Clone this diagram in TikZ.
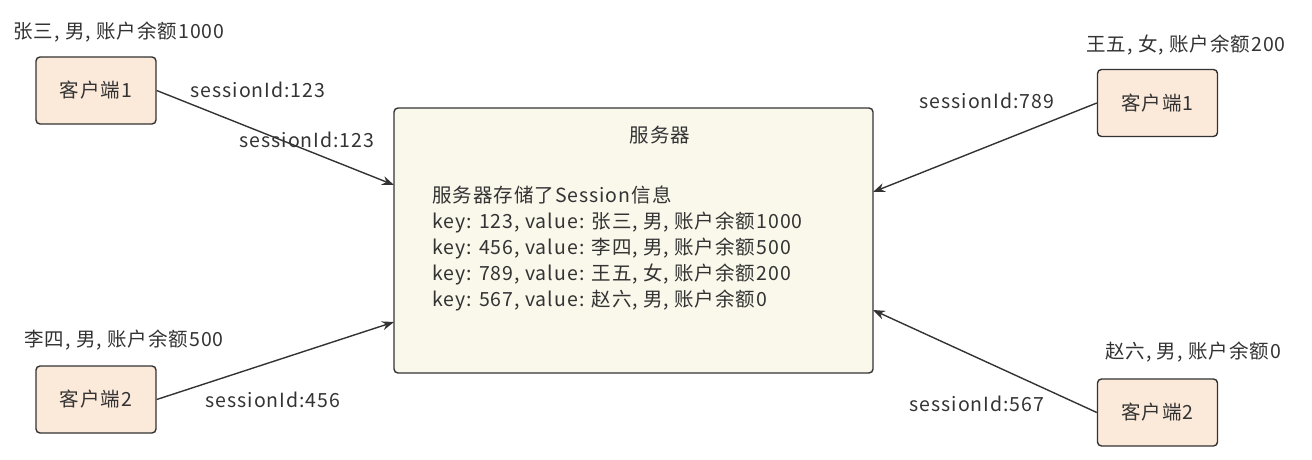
\documentclass[tikz,border=0pt]{standalone}
\usepackage{fontspec}
\setmainfont[LetterSpace=5]{Noto Sans CJK SC}
\usepackage{tikz}
\usetikzlibrary{arrows.meta, positioning}
\usepackage{xcolor}
\definecolor{clientfill}{RGB}{251,233,218}
\definecolor{serverfill}{RGB}{250,247,235}
\definecolor{inkgray}{RGB}{51,51,51}

\begin{document}
\begin{tikzpicture}[
    x=1pt, y=-1pt,
    font=\fontsize{19.5}{23}\selectfont, text=inkgray,
    client/.style={draw=inkgray, line width=1.4pt, rounded corners=4pt, fill=clientfill,
      minimum width=120pt, minimum height=67pt, inner sep=0pt},
    server/.style={draw=inkgray, line width=1.4pt, rounded corners=4pt, fill=serverfill,
      minimum width=479pt, minimum height=265pt, inner sep=0pt},
    info/.style={inner sep=0pt},
    sid/.style={inner sep=0pt},
    link/.style={draw=inkgray, line width=1.4pt, -{Stealth[length=12pt, width=9pt]}},
  ]

  \useasboundingbox (0,0) rectangle (1312,460);

  % --- server ---
  \node[server] (srv) at (633.5,240.5) {};
  \node[info] (srvtitle) at (660,135) {服务器};
  \node[info, anchor=north west, align=left, font=\fontsize{19.5}{26}\selectfont] (store) at (432,186)
    {服务器存储了Session信息\\
     key: 123, value: 张三, 男, 账户余额1000\\
     key: 456, value: 李四, 男, 账户余额500\\
     key: 789, value: 王五, 女, 账户余额200\\
     key: 567, value: 赵六, 男, 账户余额0};

  % --- clients ---
  \node[client] (cl1) at (96,90.5) {客户端1};
  \node[client] (cl2) at (96,399.5) {客户端2};
  \node[client] (cr1) at (1157.5,103) {客户端1};
  \node[client] (cr2) at (1157.5,412.5) {客户端2};

  \node[info] (ul1) at (119,32) {张三, 男, 账户余额1000};
  \node[info] (ul2) at (124,340) {李四, 男, 账户余额500};
  \node[info] (ur1) at (1186,45) {王五, 女, 账户余额200};
  \node[info] (ur2) at (1193,352) {赵六, 男, 账户余额0};

  % --- arrow ends on the server ---
  \coordinate (in1) at (394,185);
  \coordinate (in2) at (394,322);
  \coordinate (in3) at (873,192);
  \coordinate (in4) at (873,310);

  % --- connectors ---
  \draw[link] (cl1.east) -- (in1);
  \draw[link] (cl2.east) -- (in2);
  \draw[link] (cr1.west) -- (in3);
  \draw[link] (cr2.west) -- (in4);

  \node[sid] (s1a) at (258,90) {sessionId:123};
  \node[sid] (s1b) at (307,140) {sessionId:123};
  \node[sid] (s2) at (273,400) {sessionId:456};
  \node[sid] (s3) at (987,101) {sessionId:789};
  \node[sid] (s4) at (977,404) {sessionId:567};

\end{tikzpicture}
\end{document}
